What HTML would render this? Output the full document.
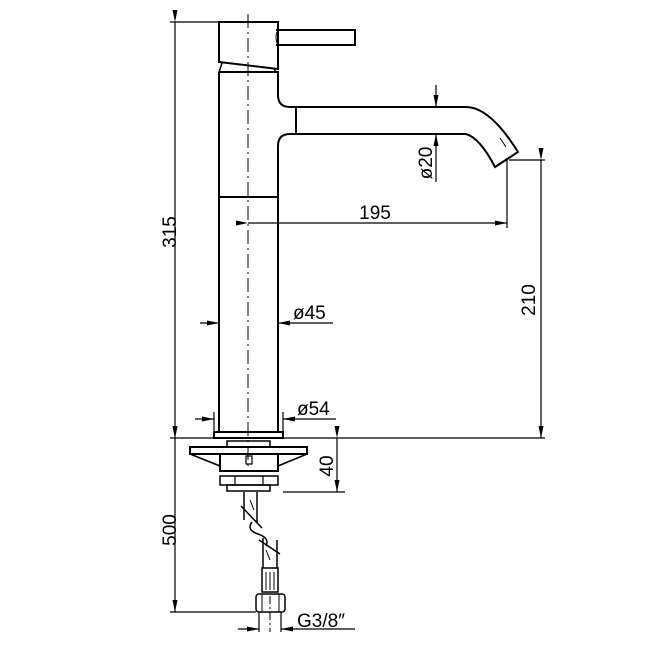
<!DOCTYPE html>
<html><head><meta charset="utf-8"><style>
html,body{margin:0;padding:0;background:#fff}
svg{display:block}
text{font-family:"Liberation Sans",sans-serif;font-size:19px;fill:#000}
</style></head><body>
<svg width="672" height="672" viewBox="0 0 672 672" xmlns="http://www.w3.org/2000/svg">
<defs>
<marker id="a" markerWidth="12" markerHeight="6" refX="12" refY="3" orient="auto" markerUnits="userSpaceOnUse">
<path d="M0,0.5 L12,3 L0,5.5 Z" fill="#000"/></marker>
</defs>
<g fill="none" stroke="#000" stroke-width="2">
<!-- handle -->
<path d="M219,22 L278,22 L278,69 L219,62 Z"/>
<path d="M276,30 L355,30 L355,45 L276,45"/>
<path d="M278,30 Q274,37 278,45" stroke-width="1"/>
<path d="M222,63 L219,72 M274,69 L276,72" stroke-width="1.5"/>
<!-- column -->
<path d="M219,72 L278,72 L278,95 Q278,107 290,107 L466,107 Q490,107 518,152 L495,167 Q480,138 466,134 L290,134 Q278,134 278,146 L278,432"/>
<path d="M219,72 L219,432"/>
<line x1="296" y1="107" x2="296" y2="134"/>
<line x1="219" y1="197" x2="278" y2="197"/>
<!-- base plate -->
<rect x="214" y="432" width="69" height="6"/>
<rect x="227" y="441" width="43" height="6" stroke-width="1.5"/>
<rect x="190" y="447" width="117" height="7"/>
<rect x="220" y="454" width="58" height="17"/>
<path d="M190,454 L220,466 M307,454 L278,466" stroke-width="1.5"/>
<rect x="246" y="456" width="6" height="8" stroke-width="1.2"/>
<rect x="220" y="476" width="58" height="9" stroke-width="1.5"/>
<path d="M235,476 L235,485 M263,476 L263,485" stroke-width="1.2"/>
<rect x="227" y="485" width="43" height="6" stroke-width="1.5"/>
<!-- hose -->
<g stroke-width="1.5">
<path d="M244,492 L244,520 M257,492 L257,522"/>
<path d="M241,506 L262,528 M252,522 Q246,530 258,534 Q270,538 266,546"/>
<path d="M263,538 L263,568 M277,540 L277,568 M259,540 L280,554"/>
<path d="M250,500 L254,510 M266,550 L270,560" stroke-width="1"/>
<rect x="262" y="568" width="16" height="24"/>
<path d="M266,572 L266,590 M270,572 L270,590 M274,572 L274,590" stroke-width="1"/>
<rect x="256" y="594" width="29" height="18" rx="3"/>
<path d="M262,594 L262,612 M279,594 L279,612" stroke-width="1"/>
</g>
</g>
<!-- centerline -->
<line x1="248" y1="14" x2="248" y2="470" stroke="#000" stroke-width="1" stroke-dasharray="14,4,2,4"/>
<line x1="500" y1="138" x2="506" y2="147" stroke="#000" stroke-width="1"/>
<line x1="270" y1="596" x2="270" y2="632" stroke="#000" stroke-width="1" stroke-dasharray="8,3,2,3"/>
<!-- dimensions -->
<g stroke="#000" stroke-width="1.2" fill="none">
<line x1="170" y1="22" x2="219" y2="22"/>
<line x1="175" y1="22" x2="175" y2="438" marker-start="url(#a)" marker-end="url(#a)"/>
<line x1="170" y1="438" x2="545" y2="438"/>
<line x1="175" y1="438" x2="175" y2="612" marker-start="url(#a)" marker-end="url(#a)"/>
<line x1="170" y1="612" x2="256" y2="612"/>
<line x1="248" y1="223" x2="507" y2="223" marker-start="url(#a)" marker-end="url(#a)"/>
<line x1="507" y1="158" x2="507" y2="228"/>
<line x1="509" y1="160" x2="545" y2="160"/>
<line x1="541" y1="160" x2="541" y2="438" marker-start="url(#a)" marker-end="url(#a)"/>
<line x1="436" y1="85" x2="436" y2="107" marker-end="url(#a)"/>
<line x1="436" y1="182" x2="436" y2="134" marker-end="url(#a)"/>
<line x1="200" y1="323" x2="219" y2="323" marker-end="url(#a)"/>
<line x1="333" y1="323" x2="278" y2="323" marker-end="url(#a)"/>
<line x1="214" y1="412" x2="214" y2="432"/>
<line x1="283" y1="412" x2="283" y2="432"/>
<line x1="195" y1="419" x2="214" y2="419" marker-end="url(#a)"/>
<line x1="336" y1="419" x2="283" y2="419" marker-end="url(#a)"/>
<line x1="337" y1="438" x2="337" y2="492" marker-start="url(#a)" marker-end="url(#a)"/>
<line x1="283" y1="492" x2="345" y2="492"/>
<line x1="259" y1="612" x2="259" y2="632"/>
<line x1="281" y1="612" x2="281" y2="632"/>
<line x1="238" y1="629" x2="259" y2="629" marker-end="url(#a)"/>
<line x1="355" y1="629" x2="281" y2="629" marker-end="url(#a)"/>
</g>
<text x="375" y="219" text-anchor="middle">195</text>
<text x="293" y="319">ø45</text>
<text x="297" y="415">ø54</text>
<text x="297" y="627">G3/8″</text>
<text transform="translate(176,232) rotate(-90)" text-anchor="middle">315</text>
<text transform="translate(176,530) rotate(-90)" text-anchor="middle">500</text>
<text transform="translate(535,300) rotate(-90)" text-anchor="middle">210</text>
<text transform="translate(432,163) rotate(-90)" text-anchor="middle">ø20</text>
<text transform="translate(333,466) rotate(-90)" text-anchor="middle">40</text>
</svg>
</body></html>
